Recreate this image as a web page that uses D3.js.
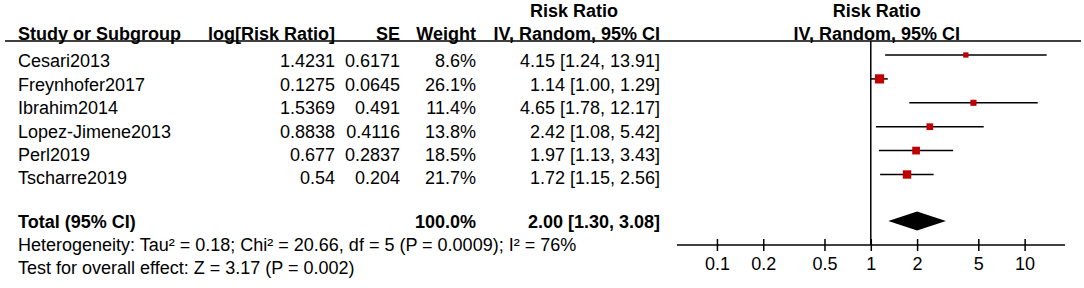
<!DOCTYPE html>
<html>
<head>
<meta charset="utf-8">
<script src="https://cdn.jsdelivr.net/npm/d3@7"></script>
<style>
  body { margin: 0; background: #fff; }
  text { font-family: "Liberation Sans", Arial, sans-serif; font-size: 18px; fill: #000; }
  .b { font-weight: bold; }
</style>
</head>
<body>
<svg id="chart" width="1084" height="288"></svg>
<script>
// Forest plot - risk ratio, random effects
var studies = ["Cesari2013", "Freynhofer2017", "Ibrahim2014", "Lopez-Jimene2013", "Perl2019", "Tscharre2019"];
var logRR = ["1.4231", "0.1275", "1.5369", "0.8838", "0.677", "0.54"];
var se = ["0.6171", "0.0645", "0.491", "0.4116", "0.2837", "0.204"];
var weights = [8.6, 26.1, 11.4, 13.8, 18.5, 21.7];
var rr = [4.15, 1.14, 4.65, 2.42, 1.97, 1.72];
var lower = [1.24, 1.00, 1.78, 1.08, 1.13, 1.15];
var upper = [13.91, 1.29, 12.17, 5.42, 3.43, 2.56];

var totalRR = 2.00, totalLower = 1.30, totalUpper = 3.08, totalWeight = 100.0;
var heterogeneity = "Heterogeneity: Tau² = 0.18; Chi² = 20.66, df = 5 (P = 0.0009); I² = 76%";
var overall = "Test for overall effect: Z = 3.17 (P = 0.002)";
var ticks = [0.1, 0.2, 0.5, 1, 2, 5, 10];

var svg = d3.select("#chart");
var f2 = d3.format(".2f");

var xScale = d3.scaleLog()
    .domain([0.055, 18.3])
    .range([677, 1065]);

// text rows and plot rows
var rowY = d3.scaleLinear().domain([0, 5]).range([61, 178]);
var markY = d3.scaleLinear().domain([0, 5]).range([55, 174.5]);
var totalY = 222, axisY = 245;

// column right edges
var colStudy = 18, colLog = 335, colSE = 400, colW = 476, colCI = 660;
var ciHeadX = colCI - 86;

// headers
svg.append("text").attr("class", "b").attr("x", ciHeadX).attr("y", 11).attr("dy", "0.35em")
    .attr("text-anchor", "middle").text("Risk Ratio");
svg.append("text").attr("class", "b").attr("x", xScale(1) + 6).attr("y", 11).attr("dy", "0.35em")
    .attr("text-anchor", "middle").text("Risk Ratio");

var heads = [
    {t: "Study or Subgroup", x: colStudy, a: "start"},
    {t: "log[Risk Ratio]", x: colLog, a: "end"},
    {t: "SE", x: colSE, a: "end"},
    {t: "Weight", x: colW, a: "end"},
    {t: "IV, Random, 95% CI", x: colCI, a: "end"},
    {t: "IV, Random, 95% CI", x: xScale(1) + 6, a: "middle"}
];
svg.selectAll(".head")
    .data(heads)
    .enter()
    .append("text")
    .attr("class", "b")
    .attr("x", (d) => d.x)
    .attr("y", 34)
    .attr("dy", "0.35em")
    .attr("text-anchor", (d) => d.a)
    .text((d) => d.t);

svg.append("line")
    .attr("x1", 5).attr("x2", 1081)
    .attr("y1", 41).attr("y2", 41)
    .attr("stroke", "#000").attr("stroke-width", 1.5);

// study rows
var cols = [
    {x: colStudy, a: "start", f: (i) => studies[i]},
    {x: colLog, a: "end", f: (i) => logRR[i]},
    {x: colSE, a: "end", f: (i) => se[i]},
    {x: colW, a: "end", f: (i) => weights[i].toFixed(1) + "%"},
    {x: colCI, a: "end", f: (i) => f2(rr[i]) + " [" + f2(lower[i]) + ", " + f2(upper[i]) + "]"}
];
cols.forEach(function (c) {
    svg.selectAll(null)
        .data(d3.range(studies.length))
        .enter()
        .append("text")
        .attr("x", c.x)
        .attr("y", (i) => rowY(i))
        .attr("dy", "0.35em")
        .attr("text-anchor", c.a)
        .text(c.f);
});

// total row
svg.append("text").attr("class", "b").attr("x", colStudy).attr("y", totalY).attr("dy", "0.35em").text("Total (95% CI)");
svg.append("text").attr("class", "b").attr("x", colW).attr("y", totalY).attr("dy", "0.35em")
    .attr("text-anchor", "end").text(totalWeight.toFixed(1) + "%");
svg.append("text").attr("class", "b").attr("x", colCI).attr("y", totalY).attr("dy", "0.35em")
    .attr("text-anchor", "end").text(f2(totalRR) + " [" + f2(totalLower) + ", " + f2(totalUpper) + "]");
svg.append("text").attr("x", colStudy).attr("y", 245).attr("dy", "0.35em").text(heterogeneity);
svg.append("text").attr("x", colStudy).attr("y", 268).attr("dy", "0.35em").text(overall);

// null line
svg.append("line")
    .attr("x1", xScale(1)).attr("x2", xScale(1))
    .attr("y1", 41).attr("y2", axisY)
    .attr("stroke", "#000").attr("stroke-width", 1.5);

// CI lines
svg.selectAll(".ci")
    .data(d3.range(studies.length))
    .enter()
    .append("line")
    .attr("x1", (i) => xScale(lower[i]))
    .attr("x2", (i) => xScale(upper[i]))
    .attr("y1", (i) => markY(i))
    .attr("y2", (i) => markY(i))
    .attr("stroke", "#000").attr("stroke-width", 1.5);

// weight squares
var side = (w) => 1.8 * Math.sqrt(w);
svg.selectAll(".sq")
    .data(d3.range(studies.length))
    .enter()
    .append("rect")
    .attr("x", (i) => xScale(rr[i]) - side(weights[i]) / 2)
    .attr("y", (i) => markY(i) - side(weights[i]) / 2)
    .attr("width", (i) => side(weights[i]))
    .attr("height", (i) => side(weights[i]))
    .attr("fill", "#c00000");

// pooled diamond
var dh = 9.5, dy0 = 221;
svg.append("polygon")
    .attr("points", [
        [xScale(totalLower), dy0],
        [xScale(totalRR), dy0 - dh],
        [xScale(totalUpper), dy0],
        [xScale(totalRR), dy0 + dh]
    ].map((p) => p.join(",")).join(" "))
    .attr("fill", "#000");

// axis
var xAxis = d3.axisBottom(xScale)
    .tickValues(ticks)
    .tickFormat((d) => String(d))
    .tickSize(6)
    .tickPadding(6);

var ax = svg.append("g")
   .attr("transform", "translate(0," + axisY + ")")
   .call(xAxis);
ax.select(".domain").attr("d", "M" + xScale.range()[0] + ",0H" + xScale.range()[1])
    .attr("stroke-width", 1.5);
ax.selectAll(".tick line").attr("y1", -6).attr("stroke-width", 1.5);
ax.selectAll(".tick text")
    .style("font-family", "'Liberation Sans', Arial, sans-serif")
    .style("font-size", "18px");
</script>
</body>
</html>
